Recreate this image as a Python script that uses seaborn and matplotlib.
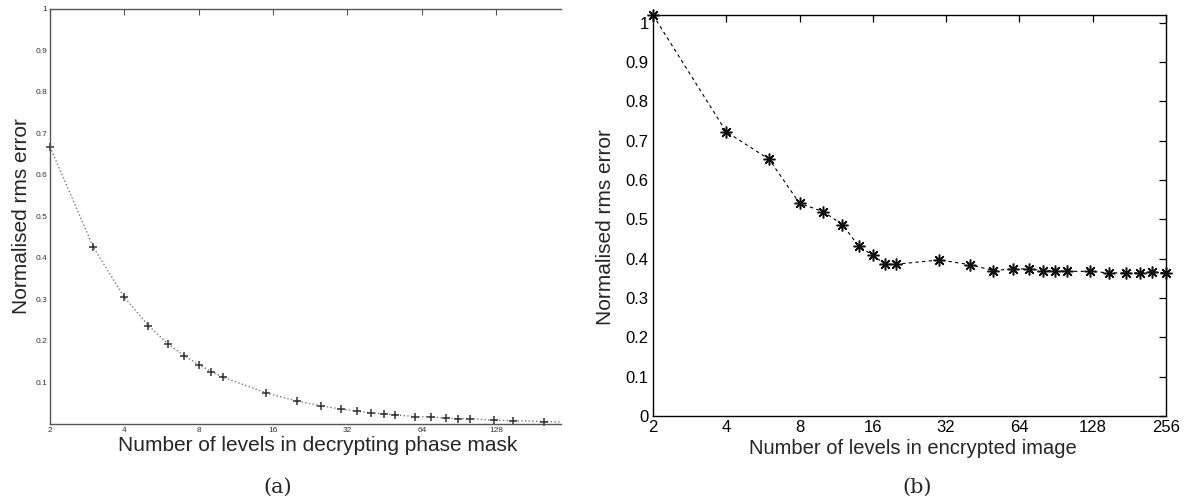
import matplotlib
matplotlib.use("Agg")
import matplotlib.pyplot as plt
import numpy as np
import pandas as pd
import seaborn as sns

# (a) decrypting phase mask levels vs normalised rms error
mask_levels = [2, 3, 4, 5, 6, 7, 8, 9, 10, 15, 20, 25, 30, 35, 40, 45, 50,
               60, 70, 80, 90, 100, 125, 150, 200, 256]
mask_error = [0.667, 0.425, 0.305, 0.237, 0.193, 0.164, 0.143, 0.126, 0.113,
              0.075, 0.055, 0.044, 0.036, 0.031, 0.027, 0.024, 0.022,
              0.018, 0.017, 0.014, 0.013, 0.013, 0.009, 0.008, 0.006, 0.004]

# (b) encrypted image levels vs normalised rms error
image_levels = [2, 4, 6, 8, 10, 12, 14, 16, 18, 20, 30, 40, 50, 60, 70, 80,
                90, 100, 125, 150, 175, 200, 225, 256]
image_error = [1.02, 0.723, 0.653, 0.541, 0.520, 0.487, 0.432, 0.409, 0.386,
               0.386, 0.397, 0.385, 0.370, 0.374, 0.374, 0.370, 0.370, 0.368,
               0.368, 0.364, 0.364, 0.364, 0.367, 0.364]

oct_ticks = [2, 4, 8, 16, 32, 64, 128, 256]
xmax_a = 234

sns.set_style("white")
plt.rcParams["font.family"] = ["Liberation Sans", "DejaVu Sans"]

fig = plt.figure(figsize=(11.87, 5.0), dpi=100)
ax_a = fig.add_axes([0.0421, 0.152, 0.4305, 0.831])
ax_b = fig.add_axes([0.5501, 0.168, 0.4322, 0.802])

df_a = pd.DataFrame({"levels": mask_levels, "error": mask_error})
df_b = pd.DataFrame({"levels": image_levels, "error": image_error})

# ---- panel (a)
sns.lineplot(data=df_a, x="levels", y="error", ax=ax_a, color="#777777",
             linestyle=":", linewidth=1.0, errorbar=None)
shown_a = df_a[df_a["levels"] <= xmax_a]
ax_a.plot(shown_a["levels"], shown_a["error"], linestyle="none", marker="+",
          markersize=6, markeredgewidth=1.1, markeredgecolor="#333333", clip_on=False)
ax_a.set_xscale("log", base=2)
ax_a.set_xlim(2, xmax_a)
ax_a.set_ylim(0, 1)
ax_a.set_xticks(oct_ticks[:-1])
ax_a.set_xticklabels([str(t) for t in oct_ticks[:-1]])
ax_a.minorticks_off()
yt_a = [0.1, 0.2, 0.3, 0.4, 0.5, 0.6, 0.7, 0.8, 0.9, 1.0]
ax_a.set_yticks(yt_a)
ax_a.set_yticklabels(["0.1", "0.2", "0.3", "0.4", "0.5", "0.6", "0.7", "0.8", "0.9", "1"])
ax_a.tick_params(axis="both", direction="in", length=4, width=0.8, color="#555555",
                 labelsize=6, labelcolor="#333333", pad=2, top=True, right=False)
for side in ["left", "bottom", "top"]:
    ax_a.spines[side].set_color("#555555")
    ax_a.spines[side].set_linewidth(1.0)
ax_a.spines["right"].set_visible(False)
ax_a.set_xlabel("Number of levels in decrypting phase mask", fontsize=15)
ax_a.set_ylabel("Normalised rms error", fontsize=15)
ax_a.xaxis.set_label_coords(0.524, -0.03)
ax_a.yaxis.set_label_coords(-0.037, 0.5)

# ---- panel (b)
sns.lineplot(data=df_b, x="levels", y="error", ax=ax_b, color="black",
             linestyle=(0, (3, 3)), linewidth=0.8, marker=(8, 2, 0), markersize=8.5,
             markeredgewidth=1.1, markeredgecolor="#111111", errorbar=None,
             clip_on=False)
ax_b.set_xscale("log", base=2)
ax_b.set_xlim(2, 256)
ax_b.set_ylim(0, 1.02)
ax_b.set_xticks(oct_ticks)
ax_b.set_xticklabels([str(t) for t in oct_ticks])
ax_b.minorticks_off()
yt_b = [0, 0.1, 0.2, 0.3, 0.4, 0.5, 0.6, 0.7, 0.8, 0.9, 1.0]
ax_b.set_yticks(yt_b)
ax_b.set_yticklabels(["0", "0.1", "0.2", "0.3", "0.4", "0.5", "0.6", "0.7", "0.8", "0.9", "1"])
ax_b.tick_params(axis="both", direction="in", length=5, width=0.9, color="black",
                 labelsize=12, labelcolor="black", top=True, right=True)
ax_b.tick_params(axis="x", pad=3)
ax_b.tick_params(axis="y", pad=3)
for side in ["left", "bottom", "top", "right"]:
    ax_b.spines[side].set_color("black")
    ax_b.spines[side].set_linewidth(1.0)
ax_b.set_xlabel("Number of levels in encrypted image", fontsize=14.5)
ax_b.set_ylabel("Normalised rms error", fontsize=15)
ax_b.xaxis.set_label_coords(0.507, -0.058)
ax_b.yaxis.set_label_coords(-0.074, 0.47)

# sub-figure captions
fig.text(278 / 1187, 1 - 487 / 500, "(a)", ha="center", va="center", fontsize=15,
         family=["DejaVu Serif", "Liberation Serif"])
fig.text(917 / 1187, 1 - 487 / 500, "(b)", ha="center", va="center", fontsize=15,
         family=["DejaVu Serif", "Liberation Serif"])

fig.savefig("out.png", dpi=100)
